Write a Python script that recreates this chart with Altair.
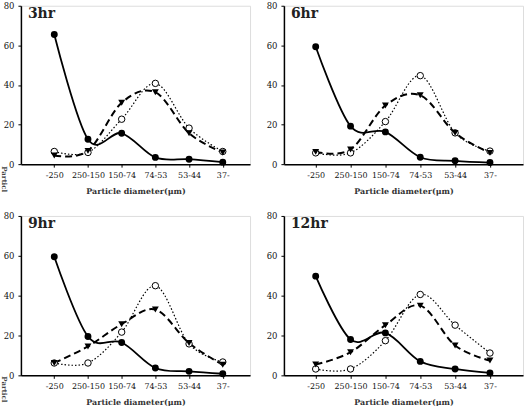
import altair as alt
import pandas as pd

categories = ["-250", "250-150", "150-74", "74-53", "53-44", "37-"]
panel_titles = ["3hr", "6hr", "9hr", "12hr"]
x_title = "Particle diameter(\u03bcm)"
y_title_fragment = "Particl"

# series: solid line + filled circle, dashed line + filled down-triangle, dotted line + open circle
solid_3 = [65.5, 12.6, 15.6, 3.4, 2.5, 1.0]
dashed_3 = [4.4, 6.7, 31.0, 36.3, 15.6, 5.9]
dotted_3 = [6.4, 5.9, 22.7, 40.8, 18.2, 6.4]

solid_6 = [59.3, 19.2, 16.3, 3.5, 1.7, 0.8]
dashed_6 = [6.2, 7.4, 29.6, 34.8, 15.8, 5.7]
dotted_6 = [5.7, 5.7, 21.5, 44.7, 15.8, 6.6]

solid_9 = [59.5, 19.5, 16.5, 3.7, 2.0, 0.8]
dashed_9 = [6.2, 14.5, 25.7, 33.0, 16.2, 5.3]
dotted_9 = [6.2, 6.2, 21.7, 45.0, 15.8, 6.7]

solid_12 = [49.8, 18.0, 21.3, 7.0, 3.2, 1.2]
dashed_12 = [5.4, 11.6, 25.2, 35.0, 15.0, 7.4]
dotted_12 = [3.2, 3.2, 17.4, 40.6, 25.2, 11.2]

FONT = "DejaVu Serif"


def panel(title, solid, dashed, dotted, width, height, pad, align, left):
    df = pd.DataFrame({
        "cat": categories * 3,
        "value": solid + dashed + dotted,
        "series": ["s"] * 6 + ["d"] * 6 + ["o"] * 6,
    })
    base = alt.Chart(df).encode(
        x=alt.X("cat:N", sort=categories,
                scale=alt.Scale(type="point", padding=pad, align=align),
                axis=alt.Axis(title=x_title, labelAngle=0, tickSize=3, labelPadding=4,
                              titlePadding=8, labelFont=FONT, labelFontSize=8,
                              labelColor="#111", titleFont=FONT, titleFontSize=8,
                              titleFontWeight="bold", titleColor="#333",
                              domainColor="black", domainWidth=1.5, tickColor="black",
                              grid=False)),
        y=alt.Y("value:Q", scale=alt.Scale(domain=[0, 80]),
                axis=alt.Axis(values=[0, 20, 40, 60, 80], title=None, tickSize=3,
                              labelPadding=4, labelFont=FONT, labelFontSize=8.5,
                              labelColor="#111", domainColor="black", domainWidth=1.5,
                              tickColor="black", grid=False)),
    )
    ls = base.transform_filter("datum.series == 's'").mark_line(
        interpolate="cardinal", color="black", strokeWidth=1.8)
    ld = base.transform_filter("datum.series == 'd'").mark_line(
        interpolate="cardinal", color="black", strokeWidth=2, strokeDash=[7, 4])
    lo = base.transform_filter("datum.series == 'o'").mark_line(
        interpolate="cardinal", color="black", strokeWidth=1.2, strokeDash=[1.5, 2])
    po = base.transform_filter("datum.series == 'o'").mark_point(
        shape="circle", filled=True, fill="white", stroke="black", strokeWidth=1, size=42, opacity=1)
    pd_ = base.transform_filter("datum.series == 'd'").mark_point(
        shape="triangle-down", filled=True, color="black", size=48, opacity=1)
    ps = base.transform_filter("datum.series == 's'").mark_point(
        shape="circle", filled=True, color="black", size=48, opacity=1)
    t = alt.Chart(pd.DataFrame({"t": [title]})).mark_text(
        font=FONT, fontSize=14, fontWeight="bold", color="#222", align="left",
        baseline="middle").encode(x=alt.value(7), y=alt.value(8), text="t:N")
    layers = [ls, ld, lo, po, pd_, ps, t]
    if left:
        frag = alt.Chart(pd.DataFrame({"t": [y_title_fragment]})).mark_text(
            font=FONT, fontSize=7, fontWeight="bold", color="#444", align="left",
            baseline="middle", angle=90).encode(x=alt.value(-17), y=alt.value(161), text="t:N")
        layers.append(frag)
    return alt.layer(*layers).properties(width=width, height=height)


p1 = panel(panel_titles[0], solid_3, dashed_3, dotted_3, 230, 159, 0.9, 0.55, True)
p2 = panel(panel_titles[1], solid_6, dashed_6, dotted_6, 240, 159, 0.93, 0.49, False)
p3 = panel(panel_titles[2], solid_9, dashed_9, dotted_9, 230, 160, 0.9, 0.55, True)
p4 = panel(panel_titles[3], solid_12, dashed_12, dotted_12, 240, 160, 0.93, 0.49, False)

chart = alt.concat(p1, p2, p3, p4, columns=2,
                   spacing=alt.RowColnumber(row=52, column=34), bounds="flush").properties(
    padding={"left": 0, "top": 0, "right": 5, "bottom": 0}
).configure_view(stroke=None).configure(background="white")

chart.save("out.html", embed_options={"renderer": "svg", "actions": False})
